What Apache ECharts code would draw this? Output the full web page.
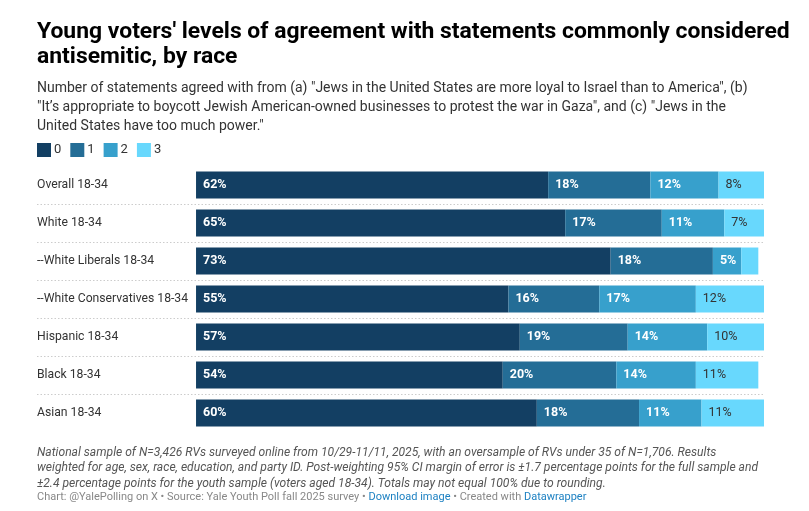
<!DOCTYPE html>
<html>
<head>
<meta charset="utf-8">
<script src="https://cdn.jsdelivr.net/npm/echarts@6/dist/echarts.min.js"></script>
<style>
  html, body { margin: 0; padding: 0; background: #fff; }
  #chart { width: 809px; height: 511px; }
</style>
</head>
<body>
<div id="chart"></div>
<script>
// groups, top to bottom
const groups = ['Overall 18-34', 'White 18-34', '--White Liberals 18-34', '--White Conservatives 18-34',
    'Hispanic 18-34', 'Black 18-34', 'Asian 18-34'];
// number of statements agreed with
const levels = ['0', '1', '2', '3'];
const agreed0 = [62, 65, 73, 55, 57, 54, 60];
const agreed1 = [18, 17, 18, 16, 19, 20, 18];
const agreed2 = [12, 11, 5, 17, 14, 14, 11];
const agreed3 = [8, 7, 3, 12, 10, 11, 11];
const colors = ['#133f63', '#246d96', '#37a0cc', '#68d8fd'];

const chart = echarts.init(document.getElementById('chart'));
const font = 'Roboto, "Noto Sans", sans-serif';

function barSeries(name, values, idx) {
    const dark = idx === 3;
    return {
        name: name,
        type: 'bar',
        stack: 'total',
        data: values,
        barWidth: 27,
        itemStyle: { color: colors[idx] },
        label: {
            show: true,
            position: 'insideLeft',
            distance: 7,
            fontFamily: font,
            fontSize: 12.5,
            fontWeight: dark ? 'normal' : 'bold',
            color: dark ? '#333' : '#fff',
            // too thin to hold a label
            formatter: p => p.value < 4 ? '' : p.value + '%'
        },
        emphasis: { disabled: true }
    };
}

var option = {
    animation: false,
    textStyle: { fontFamily: font },
    title: [
        {
            text: "Young voters' levels of agreement with statements commonly considered\nantisemitic, by race",
            left: 37, top: 20, padding: 0,
            textStyle: { fontFamily: font, fontSize: 22.9, fontWeight: 'bold', color: '#000', lineHeight: 25 }
        },
        {
            text: 'Number of statements agreed with from (a) "Jews in the United States are more loyal to Israel than to America", (b)\n' +
                '"It\u2019s appropriate to boycott Jewish American-owned businesses to protest the war in Gaza", and (c) "Jews in the\n' +
                'United States have too much power."',
            left: 37, top: 79, padding: 0,
            textStyle: { fontFamily: font, fontSize: 14, fontWeight: 'normal', color: '#333', lineHeight: 19 }
        },
        {
            text: 'National sample of N=3,426 RVs surveyed online from 10/29-11/11, 2025, with an oversample of RVs under 35 of N=1,706. Results\n' +
                'weighted for age, sex, race, education, and party ID. Post-weighting 95% CI margin of error is \u00b11.7 percentage points for the full sample and\n' +
                '\u00b12.4 percentage points for the youth sample (voters aged 18-34). Totals may not equal 100% due to rounding.',
            left: 37, top: 445, padding: 0,
            textStyle: { fontFamily: font, fontSize: 12.1, fontStyle: 'italic', fontWeight: 'normal', color: '#555', lineHeight: 15.5 }
        },
        {
            text: 'Chart: @YalePolling on X \u2022 Source: Yale Youth Poll fall 2025 survey \u2022 {a|Download image} \u2022 Created with {a|Datawrapper}',
            left: 37, top: 492, padding: 0,
            textStyle: {
                fontFamily: font, fontSize: 11, fontWeight: 'normal', color: '#888',
                rich: { a: { fontFamily: font, fontSize: 11, color: '#1d81c2' } }
            }
        }
    ],
    legend: {
        data: levels,
        left: 37, top: 143, padding: 0,
        icon: 'rect',
        itemWidth: 14, itemHeight: 14,
        itemGap: 9,
        selectedMode: false,
        textStyle: { fontFamily: font, fontSize: 13, color: '#333', padding: [0, 0, 0, -2] }
    },
    grid: { left: 37, right: 45, top: 166, height: 266 },
    xAxis: {
        type: 'value',
        // the negative range leaves room for the row labels
        min: -28, max: 100,
        show: false
    },
    yAxis: {
        type: 'category',
        data: groups,
        inverse: true,
        axisLine: { show: false },
        axisTick: { show: false },
        axisLabel: {
            inside: true, margin: 0,
            fontFamily: font, fontSize: 12.2, color: '#333'
        },
        splitLine: {
            show: true, showMinLine: false, showMaxLine: false,
            lineStyle: { color: '#ccc', type: [1.5, 2], width: 1 }
        }
    },
    series: [
        barSeries(levels[0], agreed0, 0),
        barSeries(levels[1], agreed1, 1),
        barSeries(levels[2], agreed2, 2),
        barSeries(levels[3], agreed3, 3)
    ]
};
chart.setOption(option);
window.addEventListener('resize', function () { chart.resize(); });
</script>
</body>
</html>
